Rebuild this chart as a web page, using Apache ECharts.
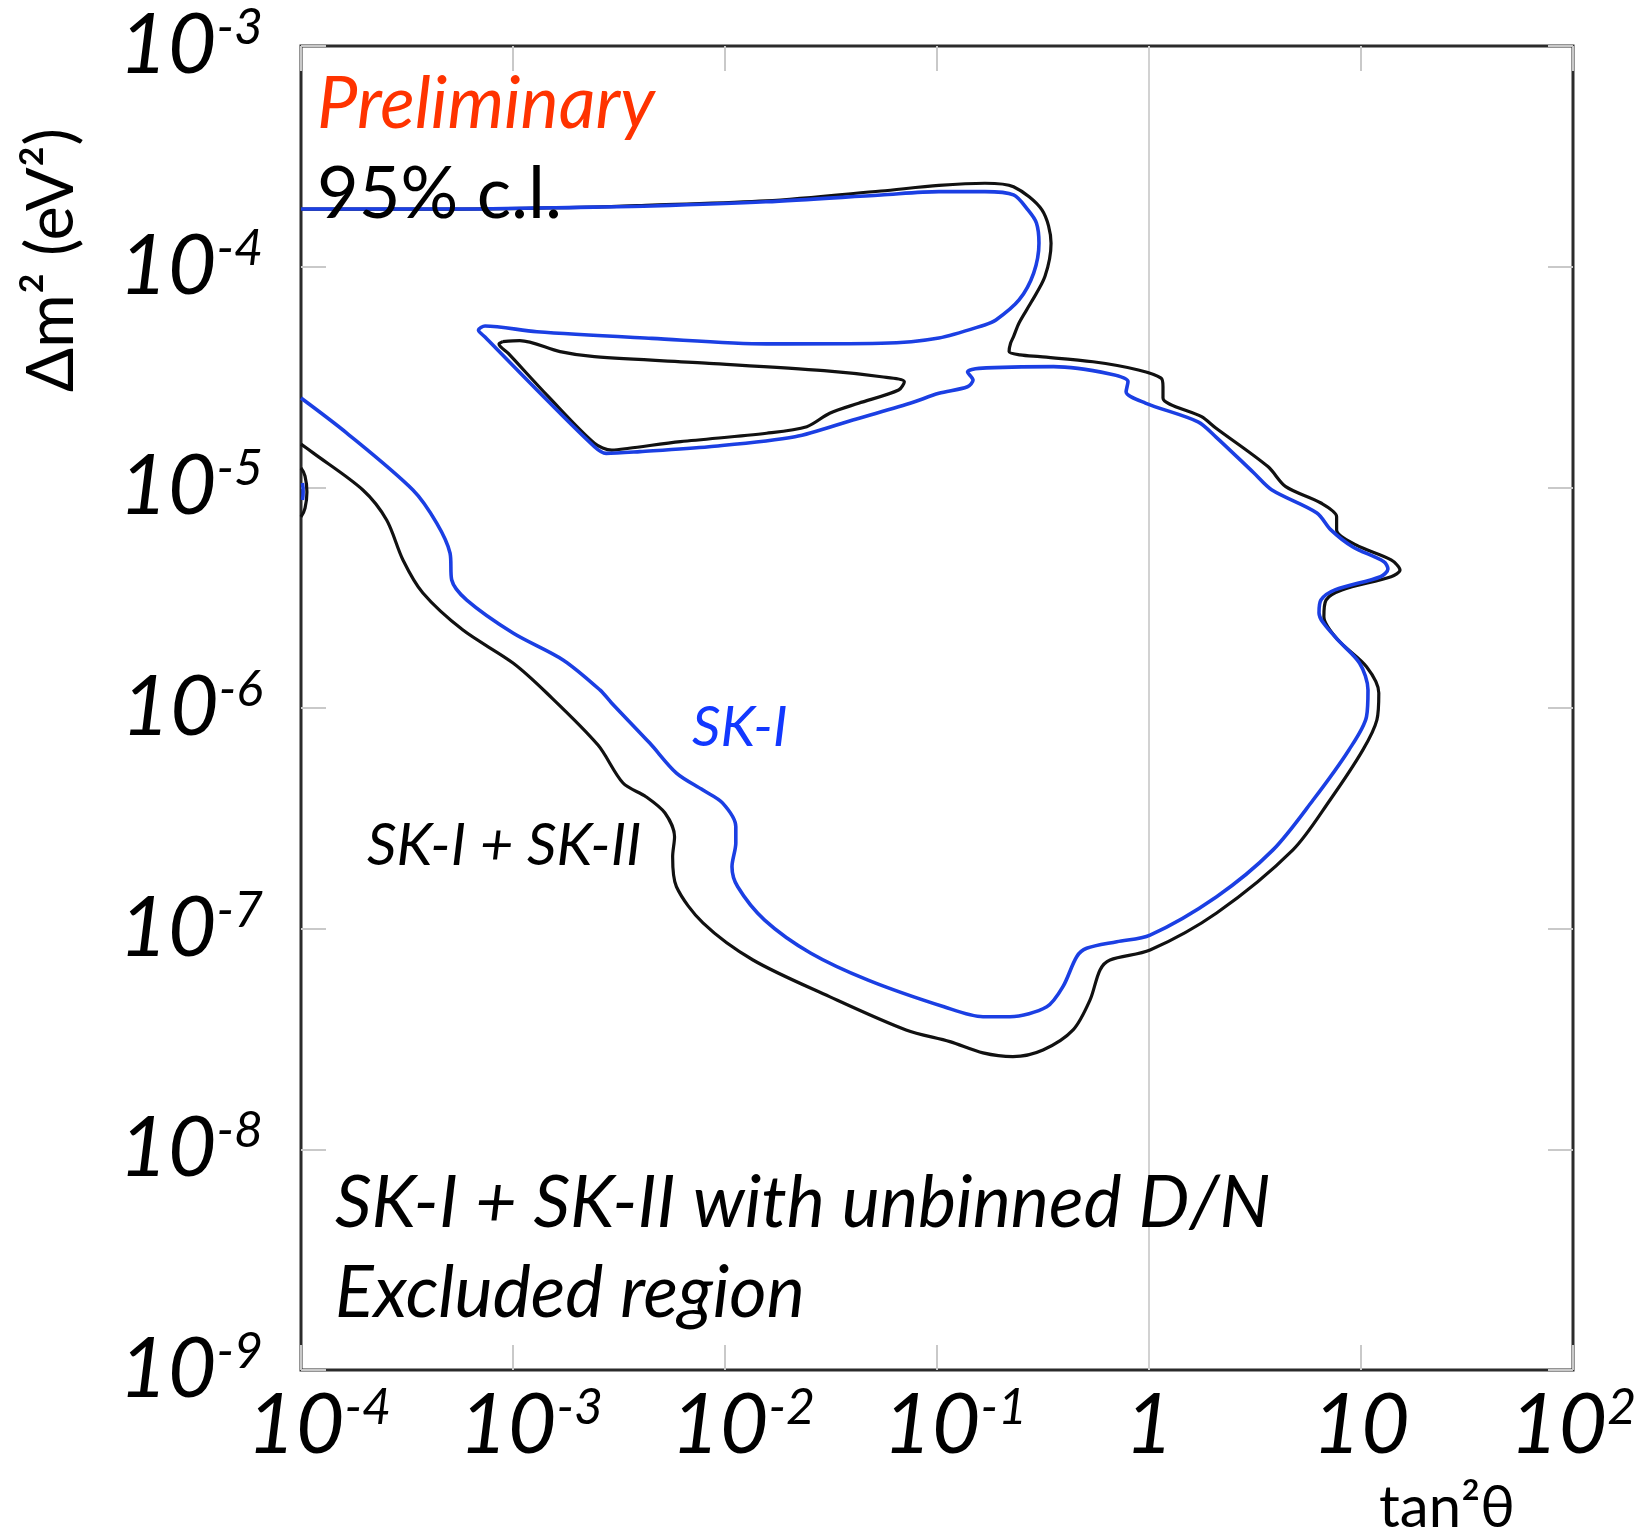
<!DOCTYPE html>
<html>
<head>
<meta charset="utf-8">
<style>
  html, body { margin: 0; padding: 0; background: #ffffff; }
  #chart { width: 1643px; height: 1533px; }
</style>
<script src="https://cdn.jsdelivr.net/npm/echarts@6/dist/echarts.min.js"></script>
</head>
<body>
<div id="chart"></div>
<script>
// Axes are in decades: x = log10(tan^2 theta), y = log10(delta m^2 / eV^2)
const xTickValues = [-4, -3, -2, -1, 0, 1, 2];
const xTickBase   = ['10', '10', '10', '10', '1', '10', '10'];
const xTickExp    = ['-4', '-3', '-2', '-1', '', '', '2'];

const yTickValues = [-9, -8, -7, -6, -5, -4, -3];
const yTickBase   = ['10', '10', '10', '10', '10', '10', '10'];
const yTickExp    = ['-9', '-8', '-7', '-6', '-5', '-4', '-3'];

// tan^2 theta = 1 reference line
const unityLine = [[0, -9], [0, -3]];

// SK-I 95% c.l. excluded-region boundary
const sk1Curve = [
  [-4.000,-3.739],[-3.297,-3.739],[-2.618,-3.730],[-2.344,-3.725],[-1.807,-3.706],
  [-1.264,-3.675],[-0.991,-3.660],[-0.774,-3.660],[-0.639,-3.675],[-0.571,-3.743],
  [-0.531,-3.802],[-0.519,-3.893],[-0.544,-4.029],[-0.613,-4.151],[-0.722,-4.242],
  [-0.775,-4.264],[-0.991,-4.323],[-1.262,-4.347],[-1.804,-4.350],[-2.345,-4.325],
  [-2.887,-4.295],[-3.132,-4.269],[-3.163,-4.287],[-3.132,-4.319],[-2.887,-4.559],
  [-2.616,-4.816],[-2.561,-4.846],[-2.401,-4.838],[-2.075,-4.816],[-1.670,-4.771],
  [-1.397,-4.695],[-1.127,-4.619],[-0.991,-4.574],[-0.856,-4.544],[-0.830,-4.514],
  [-0.856,-4.477],[-0.802,-4.461],[-0.450,-4.453],[-0.184,-4.486],[-0.099,-4.521],
  [-0.108,-4.567],[-0.017,-4.618],[0.231,-4.703],[0.315,-4.771],[0.495,-4.935],
  [0.580,-5.012],[0.792,-5.116],[0.858,-5.193],[0.960,-5.269],[1.108,-5.337],
  [1.127,-5.370],[1.092,-5.405],[0.877,-5.465],[0.811,-5.511],[0.802,-5.569],
  [0.877,-5.677],[0.993,-5.796],[1.033,-5.918],[1.026,-6.039],[0.943,-6.190],
  [0.774,-6.417],[0.585,-6.643],[0.319,-6.855],[0.005,-7.029],[-0.152,-7.059],
  [-0.294,-7.089],[-0.341,-7.127],[-0.406,-7.263],[-0.482,-7.354],[-0.656,-7.399],
  [-0.783,-7.399],[-0.967,-7.354],[-1.325,-7.233],[-1.597,-7.110],[-1.813,-6.961],
  [-1.940,-6.810],[-1.967,-6.719],[-1.949,-6.612],[-1.949,-6.538],[-2.012,-6.430],
  [-2.104,-6.372],[-2.229,-6.295],[-2.355,-6.159],[-2.535,-5.977],[-2.590,-5.918],
  [-2.764,-5.782],[-3.000,-5.660],[-3.218,-5.511],[-3.289,-5.420],[-3.297,-5.298],
  [-3.360,-5.162],[-3.472,-5.012],[-3.784,-4.754],[-4.000,-4.595]
];

// small SK-I contour piece at the left edge
const sk1EdgeLoop = [[-3.993,-4.980],[-3.990,-5.020],[-3.993,-5.057]];

// SK-I + SK-II 95% c.l. excluded-region boundary (outer)
const skAllOuter = [
  [-4.000,-3.739],[-3.297,-3.739],[-2.618,-3.730],[-2.344,-3.721],[-1.807,-3.702],
  [-1.264,-3.657],[-0.991,-3.632],[-0.774,-3.622],[-0.639,-3.638],[-0.505,-3.743],
  [-0.462,-3.894],[-0.491,-4.045],[-0.558,-4.165],[-0.613,-4.255],[-0.639,-4.317],
  [-0.653,-4.347],[-0.660,-4.385],[-0.608,-4.400],[-0.514,-4.408],[-0.264,-4.431],
  [-0.050,-4.468],[0.057,-4.505],[0.066,-4.544],[0.066,-4.595],[0.248,-4.680],
  [0.315,-4.731],[0.561,-4.906],[0.645,-4.997],[0.811,-5.071],[0.885,-5.133],
  [0.885,-5.193],[0.976,-5.261],[1.142,-5.329],[1.184,-5.375],[1.142,-5.405],
  [0.910,-5.465],[0.835,-5.511],[0.825,-5.586],[0.892,-5.692],[1.026,-5.813],
  [1.084,-5.932],[1.075,-6.054],[1.009,-6.190],[0.854,-6.417],[0.679,-6.643],
  [0.319,-6.929],[0.005,-7.097],[-0.184,-7.142],[-0.231,-7.187],[-0.278,-7.323],
  [-0.358,-7.459],[-0.500,-7.550],[-0.642,-7.580],[-0.783,-7.563],[-0.939,-7.512],
  [-1.146,-7.459],[-1.507,-7.308],[-1.868,-7.142],[-2.104,-6.974],[-2.229,-6.810],
  [-2.247,-6.674],[-2.238,-6.583],[-2.283,-6.476],[-2.373,-6.402],[-2.481,-6.340],
  [-2.599,-6.168],[-2.841,-5.932],[-3.000,-5.796],[-3.236,-5.647],[-3.425,-5.479],
  [-3.519,-5.329],[-3.596,-5.148],[-3.708,-5.012],[-3.943,-4.844],[-4.000,-4.804]
];

// SK-I + SK-II closed island below the upper lobe
const skAllIsland = [
  [-3.049,-4.340],[-2.968,-4.335],[-2.778,-4.385],[-2.616,-4.408],[-2.075,-4.438],
  [-1.533,-4.471],[-1.262,-4.499],[-1.154,-4.521],[-1.181,-4.559],[-1.370,-4.619],
  [-1.506,-4.664],[-1.614,-4.725],[-1.804,-4.755],[-2.210,-4.793],[-2.453,-4.823],
  [-2.534,-4.831],[-2.616,-4.800],[-2.833,-4.589],[-3.022,-4.393],[-3.066,-4.350],
  [-3.049,-4.340]
];

// small SK-I + SK-II contour piece at the left edge
const skAllEdgeLoop = [[-4.000,-4.912],[-3.981,-4.949],[-3.972,-5.021],[-3.981,-5.094],[-4.000,-5.134]];

const FONT = 'Lato, "Open Sans", sans-serif';
const BLUE = '#1b3fe3';
const BLACK = '#111111';

function tickRich(withPad) {
  const r = {
    b: { fontFamily: FONT, fontStyle: 'italic', fontSize: 84, lineHeight: 86, color: '#000' },
    s: { fontFamily: FONT, fontStyle: 'italic', fontSize: 50, lineHeight: 56, verticalAlign: 'top', color: '#000' }
  };
  if (withPad) r.pad = { width: 36 };
  return r;
}

function fmtX(v) {
  const i = xTickValues.indexOf(v);
  if (i < 0) return '';
  const e = xTickExp[i];
  if (!e) return '{b|' + xTickBase[i] + '}';
  const pad = e.charAt(0) === '-' ? '{pad|}' : '';
  return pad + '{b|' + xTickBase[i] + '}{s|' + e + '}';
}

function fmtY(v) {
  const i = yTickValues.indexOf(v);
  if (i < 0) return '';
  return '{b|' + yTickBase[i] + '}{s|' + yTickExp[i] + '}';
}

const tickStyle = { show: true, inside: true, length: 25, lineStyle: { color: '#c9c9c9', width: 2 } };
const hiddenLine = { show: false, onZero: false };

const chart = echarts.init(document.getElementById('chart'), null, { renderer: 'canvas' });

chart.setOption({
  animation: false,
  backgroundColor: '#ffffff',
  grid: {
    left: 301, top: 46, width: 1272, height: 1324,
    show: true, borderColor: '#2b2b2b', borderWidth: 3, backgroundColor: 'transparent'
  },
  xAxis: [
    {
      type: 'value', min: -4, max: 2, interval: 1, position: 'bottom',
      axisLine: hiddenLine, axisTick: tickStyle, splitLine: { show: false },
      axisLabel: { margin: 13, formatter: fmtX, rich: tickRich(true) }
    },
    {
      type: 'value', min: -4, max: 2, interval: 1, position: 'top',
      axisLine: hiddenLine, axisTick: tickStyle, splitLine: { show: false },
      axisLabel: { show: false }
    }
  ],
  yAxis: [
    {
      type: 'value', min: -9, max: -3, interval: 1, position: 'left',
      axisLine: hiddenLine, axisTick: tickStyle, splitLine: { show: false },
      axisLabel: { margin: 38, formatter: fmtY, rich: tickRich(false) }
    },
    {
      type: 'value', min: -9, max: -3, interval: 1, position: 'right',
      axisLine: hiddenLine, axisTick: tickStyle, splitLine: { show: false },
      axisLabel: { show: false }
    }
  ],
  series: [
    {
      name: 'tan2theta = 1', type: 'line', data: unityLine, showSymbol: false, silent: true, z: 1,
      lineStyle: { color: '#d2d2d2', width: 2 }
    },
    {
      name: 'SK-I + SK-II', type: 'line', data: skAllOuter, showSymbol: false, smooth: 0.3, z: 3,
      lineStyle: { color: BLACK, width: 3.2 }
    },
    {
      name: 'SK-I + SK-II island', type: 'line', data: skAllIsland, showSymbol: false, smooth: 0.3, z: 3,
      lineStyle: { color: BLACK, width: 3.2 }
    },
    {
      name: 'SK-I + SK-II edge', type: 'line', data: skAllEdgeLoop, showSymbol: false, smooth: 0.5, z: 3,
      lineStyle: { color: BLACK, width: 3.2 }
    },
    {
      name: 'SK-I', type: 'line', data: sk1Curve, showSymbol: false, smooth: 0.3, z: 4,
      lineStyle: { color: BLUE, width: 3.6 }
    },
    {
      name: 'SK-I edge', type: 'line', data: sk1EdgeLoop, showSymbol: false, smooth: 0.5, z: 4,
      lineStyle: { color: BLUE, width: 3.6 }
    }
  ],
  graphic: [
    { type: 'text', x: 317, y: 105, z: 10,
      style: { text: 'Preliminary', font: 'italic 72px ' + FONT, fill: '#ff3300', textAlign: 'left', textVerticalAlign: 'middle', align: 'left', verticalAlign: 'middle' } },
    { type: 'text', x: 317, y: 195, z: 10,
      style: { text: '95% c.l.', font: '72px ' + FONT, fill: '#000', textAlign: 'left', textVerticalAlign: 'middle', align: 'left', verticalAlign: 'middle' } },
    { type: 'text', x: 692, y: 728, z: 10,
      style: { text: 'SK-I', font: 'italic 56px ' + FONT, fill: '#1238ff', textAlign: 'left', textVerticalAlign: 'middle', align: 'left', verticalAlign: 'middle' } },
    { type: 'text', x: 367, y: 846, z: 10,
      style: { text: 'SK-I + SK-II', font: 'italic 58px ' + FONT, fill: '#000', textAlign: 'left', textVerticalAlign: 'middle', align: 'left', verticalAlign: 'middle' } },
    { type: 'text', x: 335, y: 1204, z: 10,
      style: { text: 'SK-I + SK-II with unbinned D/N', font: 'italic 72px ' + FONT, fill: '#000', textAlign: 'left', textVerticalAlign: 'middle', align: 'left', verticalAlign: 'middle' } },
    { type: 'text', x: 335, y: 1294, z: 10,
      style: { text: 'Excluded region', font: 'italic 72px ' + FONT, fill: '#000', textAlign: 'left', textVerticalAlign: 'middle', align: 'left', verticalAlign: 'middle' } },
    { type: 'text', x: 52, y: 260, rotation: Math.PI / 2, z: 10,
      style: { text: 'Δm² (eV²)', font: '65px ' + FONT, fill: '#000', textAlign: 'center', textVerticalAlign: 'middle', align: 'center', verticalAlign: 'middle' } },
    { type: 'text', x: 1447, y: 1508, z: 10,
      style: { text: 'tan²θ', font: '58px ' + FONT, fill: '#000', textAlign: 'center', textVerticalAlign: 'middle', align: 'center', verticalAlign: 'middle' } }
  ]
});
</script>
</body>
</html>
